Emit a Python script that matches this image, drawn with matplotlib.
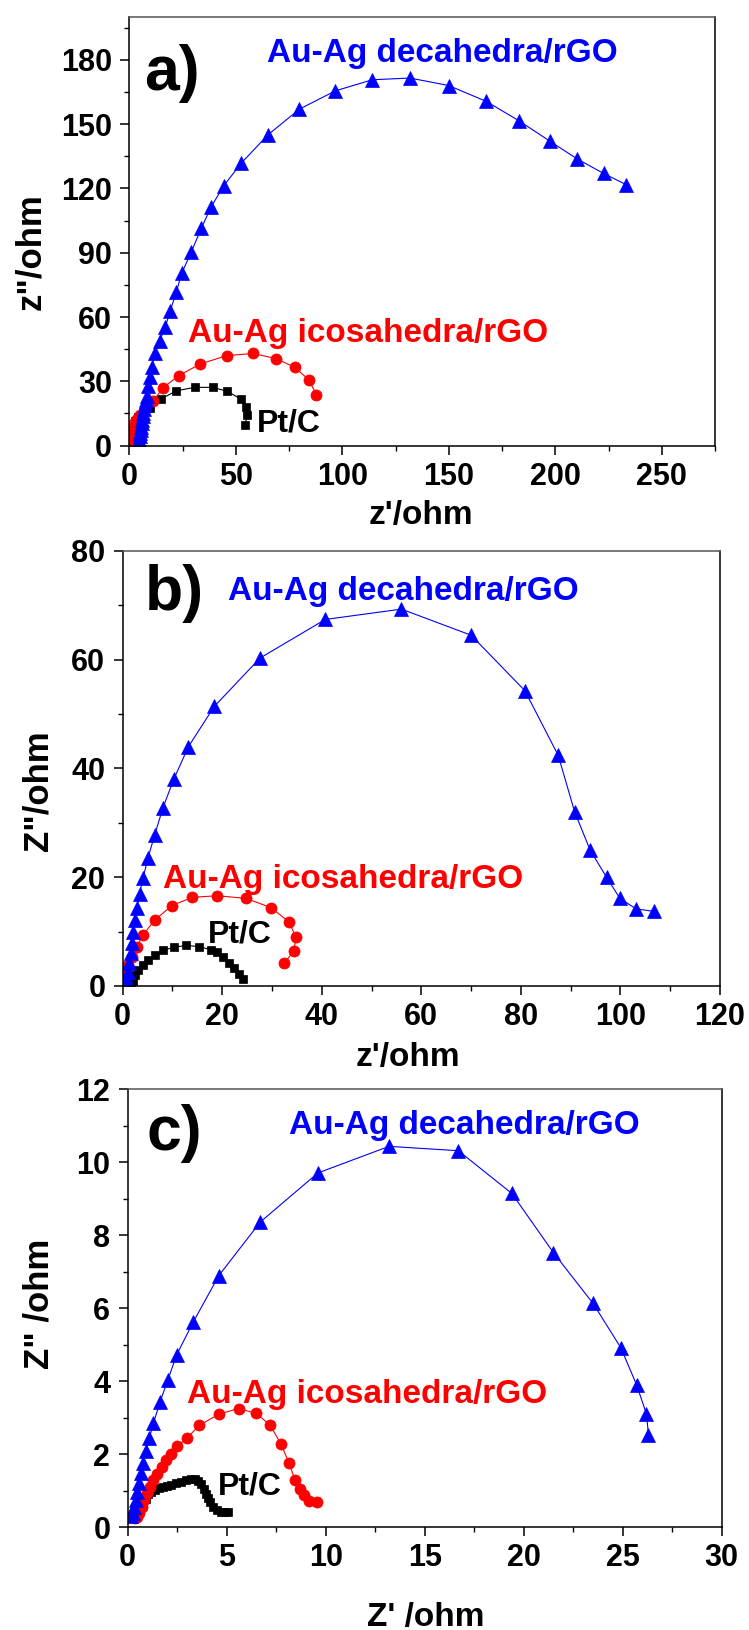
import matplotlib
matplotlib.use("Agg")
import matplotlib.pyplot as plt
from matplotlib.ticker import MultipleLocator

plt.rcParams['font.family'] = ['Liberation Sans', 'DejaVu Sans']
plt.rcParams['font.weight'] = 'bold'

# ---- panel a ----
a_blue_x = [4.6, 4.7, 4.7, 4.9, 5.0, 5.3, 5.5, 5.9, 6.2, 6.4, 6.6, 7.0, 7.4, 7.8, 8.2, 9.0, 9.8, 10.6,
            12.1, 14.2, 16.9, 19.2, 22.1, 24.6, 29.1, 33.8, 38.5, 44.3, 52.6, 65.1, 79.9, 96.7, 114.1,
            131.8, 150.0, 167.6, 182.9, 197.4, 210.4, 222.7, 233.4]
a_blue_y = [0.3, 1.5, 2.7, 4.3, 5.8, 7.4, 8.9, 10.5, 12.0, 13.6, 15.2, 17.0, 19.0, 21.2, 23.3, 27.7, 32.0, 36.7,
            43.0, 48.8, 55.3, 62.8, 71.7, 80.4, 90.3, 101.4, 111.5, 121.2, 131.8, 145.0, 157.0, 165.5, 170.7,
            171.5, 168.0, 160.6, 151.6, 142.1, 133.7, 127.0, 121.7]
a_red_x = [0.3, 0.5, 0.8, 1.2, 1.6, 2.1, 2.7, 3.5, 5.0, 7.5, 11.0, 15.8, 23.2, 33.4, 45.7, 58.2, 68.9, 77.6, 84.2, 87.9]
a_red_y = [0.8, 2.7, 5.0, 6.5, 8.1, 9.6, 11.2, 12.6, 14.4, 17.2, 20.6, 26.9, 32.7, 38.1, 42.0, 43.0, 40.6, 36.6, 30.8, 23.8]
a_blk_x = [0.5, 0.8, 1.2, 1.7, 2.5, 4.0, 6.5, 9.8, 14.8, 22.1, 30.8, 39.3, 46.1, 52.4, 55.0, 55.5, 54.3]
a_blk_y = [1.0, 4.0, 7.0, 9.5, 11.5, 13.5, 15.5, 17.5, 21.7, 25.6, 27.2, 27.2, 25.3, 21.7, 18.0, 14.4, 9.7]

# ---- panel b ----
b_blue_x = [0.8, 1.1, 1.3, 1.6, 1.9, 2.1, 2.5, 2.9, 3.4, 4.1, 5.1, 6.4, 8.1, 10.3, 13.2, 18.4, 27.6, 40.7,
            56.0, 70.0, 80.8, 87.5, 90.8, 93.9, 97.2, 99.9, 103.1, 106.8]
b_blue_y = [1.1, 2.6, 4.2, 6.0, 7.9, 10.0, 12.1, 14.4, 17.0, 19.9, 23.6, 27.7, 32.8, 38.1, 44.0, 51.4, 60.3, 67.4,
            69.3, 64.5, 54.3, 42.4, 32.0, 25.0, 20.0, 16.1, 14.2, 13.7]
b_red_x = [0.1, 0.5, 1.1, 1.8, 2.8, 4.1, 6.4, 9.9, 14.0, 19.0, 24.8, 29.8, 33.4, 34.8, 34.4, 32.5]
b_red_y = [0.8, 2.3, 3.9, 5.4, 7.2, 9.4, 12.1, 14.8, 16.3, 16.6, 16.1, 14.4, 11.8, 9.0, 6.5, 4.2]
b_blk_x = [1.6, 2.0, 2.5, 3.1, 4.0, 5.1, 6.4, 8.1, 10.4, 12.8, 15.4, 17.7, 19.0, 20.1, 21.3, 22.3, 23.3, 24.2]
b_blk_y = [0.3, 1.0, 2.0, 2.9, 3.9, 4.8, 5.7, 6.6, 7.1, 7.5, 7.2, 6.7, 6.3, 5.4, 4.3, 3.3, 2.2, 1.2]

# ---- panel c ----
c_blue_x = [0.15, 0.25, 0.34, 0.40, 0.49, 0.57, 0.67, 0.79, 0.93, 1.09, 1.3, 1.63, 2.02, 2.47, 3.3, 4.6, 6.7,
            9.6, 13.2, 16.7, 19.4, 21.5, 23.5, 24.9, 25.7, 26.2, 26.3]
c_blue_y = [0.30, 0.38, 0.56, 0.75, 0.97, 1.20, 1.48, 1.75, 2.08, 2.44, 2.85, 3.43, 4.02, 4.72, 5.61, 6.89, 8.36,
            9.70, 10.43, 10.31, 9.14, 7.52, 6.13, 4.92, 3.90, 3.10, 2.52]
c_red_x = [0.35, 0.45, 0.59, 0.71, 0.82, 0.96, 1.13, 1.3, 1.5, 1.72, 1.94, 2.19, 2.51, 2.98, 3.62, 4.6, 5.6,
           6.5, 7.2, 7.75, 8.15, 8.45, 8.7, 8.9, 9.15, 9.55]
c_red_y = [0.25, 0.29, 0.38, 0.56, 0.75, 0.93, 1.11, 1.30, 1.47, 1.65, 1.84, 2.02, 2.22, 2.44, 2.79, 3.10, 3.25,
           3.12, 2.79, 2.27, 1.75, 1.30, 1.05, 0.88, 0.72, 0.68]
c_blk_x = [0.45, 0.6, 0.75, 0.9, 1.05, 1.2, 1.4, 1.6, 1.8, 2.0, 2.2, 2.45, 2.7, 2.95, 3.2, 3.4, 3.55, 3.7,
           3.85, 3.95, 4.05, 4.15, 4.3, 4.5, 4.7, 4.9, 5.05]
c_blk_y = [0.30, 0.45, 0.62, 0.78, 0.90, 0.98, 1.03, 1.07, 1.10, 1.13, 1.17, 1.21, 1.25, 1.29, 1.33, 1.33, 1.28,
           1.18, 1.05, 0.92, 0.80, 0.68, 0.56, 0.47, 0.43, 0.42, 0.43]

dec_label = "Au-Ag decahedra/rGO"
ico_label = "Au-Ag icosahedra/rGO"
pt_label = "Pt/C"

fig = plt.figure(figsize=(7.49, 16.30), dpi=100)

panels = [
    dict(rect=[0.1726, 0.7266, 0.7820, 0.2630], tag="a)", xlim=(0, 275), ylim=(0, 200),
         xmaj=50, xmin=25, ymaj=30, ymin=15, yticks_max=180,
         blue=(a_blue_x, a_blue_y), red=(a_red_x, a_red_y), blk=(a_blk_x, a_blk_y),
         xlabel="z'/ohm", ylabel='z"/ohm', xl=(0.498, -0.164), yl=(-0.168, 0.452),
         tagpos=(0.026, 0.867), dec=(0.235, 0.896), ico=(0.100, 0.241), pt=(0.217, 0.034)),
    dict(rect=[0.1638, 0.3951, 0.7975, 0.2669], tag="b)", xlim=(0, 120), ylim=(0, 80),
         xmaj=20, xmin=10, ymaj=20, ymin=10, yticks_max=80,
         blue=(b_blue_x, b_blue_y), red=(b_red_x, b_red_y), blk=(b_blk_x, b_blk_y),
         xlabel="z'/ohm", ylabel='Z"/ohm', xl=(0.477, -0.1655), yl=(-0.142, 0.449),
         tagpos=(0.037, 0.903), dec=(0.1765, 0.887), ico=(0.0673, 0.226), pt=(0.142, 0.099)),
    dict(rect=[0.1705, 0.0630, 0.7931, 0.2689], tag="c)", xlim=(0, 30), ylim=(0, 12),
         xmaj=5, xmin=2.5, ymaj=2, ymin=1, yticks_max=12,
         blue=(c_blue_x, c_blue_y), red=(c_red_x, c_red_y), blk=(c_blk_x, c_blk_y),
         xlabel="Z' /ohm", ylabel='Z" /ohm', xl=(0.502, -0.2047), yl=(-0.149, 0.509),
         tagpos=(0.031, 0.898), dec=(0.272, 0.897), ico=(0.099, 0.283), pt=(0.151, 0.074)),
]

for p in panels:
    ax = fig.add_axes(p["rect"])
    ax.plot(*p["blk"], color="black", marker="s", ms=6.3, lw=0.8, mew=0.5)
    ax.plot(*p["red"], color="#ff0000", marker="o", ms=8, lw=0.8, mew=0.5)
    ax.plot(*p["blue"], color="#0000ff", marker="^", ms=9.5, lw=0.8, mew=0.5)

    ax.set_xlim(*p["xlim"])
    ax.set_ylim(*p["ylim"])
    ax.xaxis.set_major_locator(MultipleLocator(p["xmaj"]))
    ax.xaxis.set_minor_locator(MultipleLocator(p["xmin"]))
    ax.yaxis.set_major_locator(MultipleLocator(p["ymaj"]))
    ax.yaxis.set_minor_locator(MultipleLocator(p["ymin"]))
    yt = [t for t in range(0, p["yticks_max"] + 1, p["ymaj"])]
    ax.set_yticks(yt)
    ax.tick_params(which="major", direction="out", length=6.5, width=1.1, labelsize=22, pad=5)
    ax.tick_params(which="minor", direction="out", length=3.8, width=1.0)
    ax.tick_params(axis="y", which="major", pad=6)
    for lab in ax.get_xticklabels() + ax.get_yticklabels():
        lab.set_fontweight("bold")
    for sp in ax.spines.values():
        sp.set_linewidth(1.1)
    ax.spines["top"].set_color("#555555")

    ax.set_xlabel(p["xlabel"], fontsize=24, fontweight="bold", ha="center", va="center")
    ax.set_ylabel(p["ylabel"], fontsize=25, fontweight="bold", ha="center", va="center",
                  rotation=90, rotation_mode="default")
    ax.xaxis.set_label_coords(*p["xl"])
    ax.yaxis.set_label_coords(*p["yl"])

    ax.text(p["tagpos"][0], p["tagpos"][1], p["tag"], transform=ax.transAxes, fontsize=45,
            fontweight="bold", ha="left", va="center")
    ax.text(p["dec"][0], p["dec"][1], dec_label, transform=ax.transAxes, fontsize=24,
            fontweight="bold", color="#0000ff", ha="left", va="baseline")
    ax.text(p["ico"][0], p["ico"][1], ico_label, transform=ax.transAxes, fontsize=24,
            fontweight="bold", color="#ff0000", ha="left", va="baseline")
    ax.text(p["pt"][0], p["pt"][1], pt_label, transform=ax.transAxes, fontsize=23,
            fontweight="bold", color="black", ha="left", va="baseline")

fig.savefig("out.png", dpi=100)
